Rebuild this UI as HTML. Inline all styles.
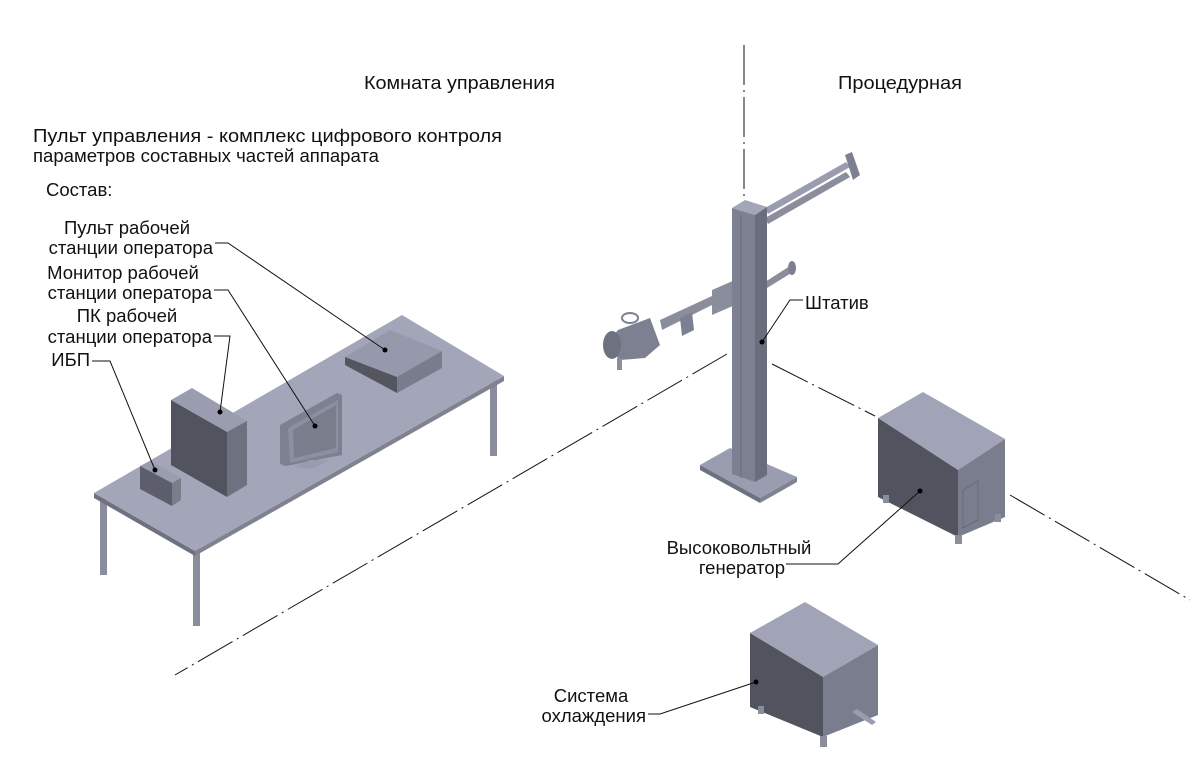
<!DOCTYPE html>
<html><head><meta charset="utf-8"><style>
html,body{margin:0;padding:0;background:#fff;}
svg{display:block;}
text{font-family:"Liberation Sans",Arial,sans-serif;font-size:18.5px;fill:#111;}
</style></head><body>
<svg width="1200" height="778" viewBox="0 0 1200 778" xmlns="http://www.w3.org/2000/svg">
<g stroke="#111" stroke-width="1" fill="none" stroke-dasharray="40,5,2,5">
<line x1="744" y1="45" x2="744" y2="200"/>
<line x1="727" y1="354" x2="175" y2="675"/>
<line x1="772" y1="364" x2="875" y2="416"/>
<line x1="1010" y1="495" x2="1190" y2="600"/>
</g>

<g>
<rect x="100" y="495" width="7" height="80" fill="#8a8d9c"/>
<rect x="193" y="548" width="7" height="78" fill="#8a8d9c"/>
<rect x="490" y="376" width="7" height="80" fill="#8a8d9c"/>
<polygon points="94,493 195,551 195,556 94,498" fill="#6e7180"/>
<polygon points="195,551 504,376 504,381 195,556" fill="#80838f"/>
<polygon points="94,493 402,315 504,376 195,551" fill="#a3a6b8"/>
</g>
<polygon points="345,357 390,330 442,351 397,377" fill="#9699ab"/>
<polygon points="345,357 397,377 397,393 345,365" fill="#53565f"/>
<polygon points="397,377 442,351 442,368 397,393" fill="#797c8c"/>
<polygon points="280,425 337,393 342,395 342,455 286,466 280,464" fill="#7d8090"/>
<polygon points="288,428 338,400 338,452 290,463" fill="#8c8fa0"/>
<polygon points="293,430 336,405 336,448 294,458" fill="#7a7d8c"/>
<polygon points="293,467 310,460 330,460 312,469" fill="#999cae"/>
<polygon points="171,400 192,388 247,421 227,432" fill="#9a9db0"/>
<polygon points="171,400 227,432 227,497 171,465" fill="#51545f"/>
<polygon points="227,432 247,421 247,485 227,497" fill="#6e7180"/>
<polygon points="140,466 150,461 181,478 172,483" fill="#9a9db0"/>
<polygon points="140,466 172,483 172,506 140,489" fill="#5c5f6b"/>
<polygon points="172,483 181,478 181,500 172,506" fill="#7a7d8c"/>

<polygon points="700,465 730,448 797,477 760,498" fill="#9a9db0"/>
<polygon points="700,465 760,498 760,503 700,470" fill="#6e7180"/>
<polygon points="760,498 797,477 797,482 760,503" fill="#80838f"/>
<polygon points="765,208 846,162 850,167 768,214" fill="#9a9db0"/>
<polygon points="765,218 846,172 850,177 768,224" fill="#8a8d9c"/>
<polygon points="845,155 852,152 860,175 853,180" fill="#7d8090"/>
<polygon points="765,282 790,266 793,272 767,288" fill="#8a8d9c"/>
<ellipse cx="792" cy="268" rx="4" ry="7" fill="#7d8090"/>
<polygon points="712,290 735,280 735,305 712,315" fill="#8a8d9c"/>
<polygon points="660,320 712,296 712,305 662,330" fill="#8a8d9c"/>
<polygon points="680,318 692,312 694,330 682,336" fill="#7d8090"/>
<polygon points="618,330 650,318 660,345 645,358 620,360 606,345" fill="#7d8090"/>
<ellipse cx="612" cy="345" rx="9" ry="14" fill="#6e7180"/>
<ellipse cx="630" cy="318" rx="8" ry="5" fill="none" stroke="#7d8090" stroke-width="2"/>
<rect x="617" y="358" width="5" height="12" fill="#8a8d9c"/>
<polygon points="732,208 745,200 767,207 755,215" fill="#a3a6b8"/>
<polygon points="732,208 755,215 755,482 732,474" fill="#7d8090"/>
<polygon points="755,215 767,207 767,475 755,482" fill="#6a6d7c"/>
<line x1="741" y1="215" x2="741" y2="478" stroke="#6a6d7c" stroke-width="1"/>

<polygon points="878,418 923,392 1005,439 958,470" fill="#a1a4b7"/>
<polygon points="878,418 958,470 958,537 878,497" fill="#51545f"/>
<polygon points="958,470 1005,439 1005,517 958,537" fill="#7a7d8e"/>
<rect x="883" y="495" width="6" height="8" fill="#8a8d9c"/>
<rect x="955" y="535" width="7" height="9" fill="#8a8d9c"/>
<rect x="995" y="514" width="6" height="8" fill="#8a8d9c"/>
<polygon points="963,490 978,481 978,520 963,528" fill="none" stroke="#666a78" stroke-width="1"/>

<polygon points="750,633 805,602 878,645 823,677" fill="#a1a4b7"/>
<polygon points="750,633 823,677 823,737 750,707" fill="#51545f"/>
<polygon points="823,677 878,645 878,715 823,737" fill="#7a7d8e"/>
<rect x="758" y="706" width="6" height="8" fill="#8a8d9c"/>
<rect x="820" y="736" width="7" height="11" fill="#8a8d9c"/>
<polygon points="852,712 857,709 876,722 872,725" fill="#9a9db0"/>

<g stroke="#111" stroke-width="1" fill="none">
<polyline points="215,243 228,243 385,350"/>
<polyline points="214,290 228,290 315,426"/>
<polyline points="214,336 230,336 220,412"/>
<polyline points="92,361 110,361 155,470"/>
<polyline points="803,300 790,300 762,342"/>
<polyline points="786,564 838,564 920,491"/>
<polyline points="648,714 660,714 756,682"/>
</g>
<g fill="#000">
<circle cx="385" cy="350" r="2.5"/><circle cx="315" cy="426" r="2.5"/>
<circle cx="220" cy="412" r="2.5"/><circle cx="155" cy="470" r="2.5"/>
<circle cx="762" cy="342" r="2.5"/><circle cx="920" cy="491" r="2.5"/>
<circle cx="756" cy="682" r="2.5"/>
</g>

<text x="364" y="89" textLength="191" lengthAdjust="spacingAndGlyphs">Комната управления</text>
<text x="838" y="89" textLength="124" lengthAdjust="spacingAndGlyphs">Процедурная</text>
<text x="33" y="142" textLength="469" lengthAdjust="spacingAndGlyphs">Пульт управления - комплекс цифрового контроля</text>
<text x="33" y="162" textLength="346" lengthAdjust="spacingAndGlyphs">параметров составных частей аппарата</text>
<text x="46" y="196">Состав:</text>
<text x="127" y="234" text-anchor="middle">Пульт рабочей</text>
<text x="213" y="254" text-anchor="end">станции оператора</text>
<text x="123" y="279" text-anchor="middle">Монитор рабочей</text>
<text x="212" y="299" text-anchor="end">станции оператора</text>
<text x="127" y="322" text-anchor="middle">ПК рабочей</text>
<text x="212" y="343" text-anchor="end">станции оператора</text>
<text x="90" y="366" text-anchor="end">ИБП</text>
<text x="805" y="309">Штатив</text>
<text x="739" y="554" text-anchor="middle">Высоковольтный</text>
<text x="785" y="574" text-anchor="end">генератор</text>
<text x="591" y="702" text-anchor="middle">Система</text>
<text x="646" y="722" text-anchor="end">охлаждения</text>
</svg>
</body></html>
